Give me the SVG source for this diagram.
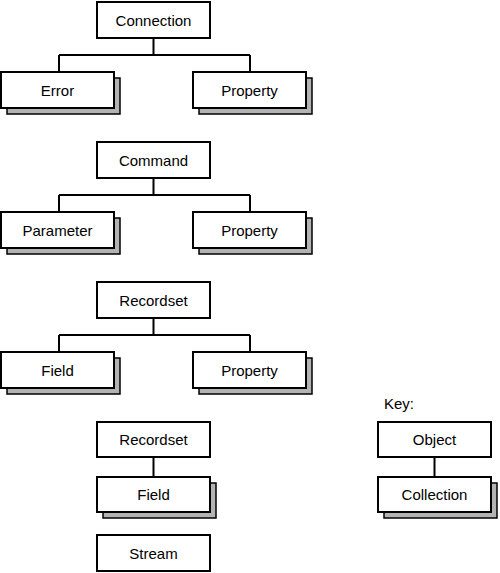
<svg xmlns="http://www.w3.org/2000/svg" width="500" height="573" viewBox="0 0 500 573">
<style>
.box{fill:#fff;stroke:#000;stroke-width:2}
.sh{fill:#b3b3b3;stroke:#000;stroke-width:1.5}
.t{font-family:"Liberation Sans",Arial,sans-serif;font-size:15px;fill:#000;text-anchor:middle}
.c{fill:none;stroke:#000;stroke-width:2}
</style>
<rect width="500" height="573" fill="#fff"/>
<g id="connectors">
<path class="c" d="M153.5 38V55M59 55H250M59 55V72M250 55V72"/>
<path class="c" d="M153.5 178V195M59 195H250M59 195V212M250 195V212"/>
<path class="c" d="M153.5 318V335M59 335H250M59 335V352M250 335V352"/>
<path class="c" d="M153.5 457V477"/>
<path class="c" d="M434.5 457V477"/>
</g>
<g id="connection"><rect class="box" x="97" y="2" width="113" height="36"/><text class="t" x="153.5" y="25.5">Connection</text></g>
<g id="error"><rect class="sh" x="7" y="78" width="113" height="36"/><rect class="box" x="1" y="72" width="113" height="36"/><text class="t" x="57.5" y="95.5">Error</text></g>
<g id="property1"><rect class="sh" x="199" y="78" width="113" height="36"/><rect class="box" x="193" y="72" width="113" height="36"/><text class="t" x="249.5" y="95.5">Property</text></g>
<g id="command"><rect class="box" x="97" y="142" width="113" height="36"/><text class="t" x="153.5" y="165.5">Command</text></g>
<g id="parameter"><rect class="sh" x="7" y="218" width="113" height="36"/><rect class="box" x="1" y="212" width="113" height="36"/><text class="t" x="57.5" y="235.5">Parameter</text></g>
<g id="property2"><rect class="sh" x="199" y="218" width="113" height="36"/><rect class="box" x="193" y="212" width="113" height="36"/><text class="t" x="249.5" y="235.5">Property</text></g>
<g id="recordset1"><rect class="box" x="97" y="282" width="113" height="36"/><text class="t" x="153.5" y="305.5">Recordset</text></g>
<g id="field1"><rect class="sh" x="7" y="358" width="113" height="36"/><rect class="box" x="1" y="352" width="113" height="36"/><text class="t" x="57.5" y="375.5">Field</text></g>
<g id="property3"><rect class="sh" x="199" y="358" width="113" height="36"/><rect class="box" x="193" y="352" width="113" height="36"/><text class="t" x="249.5" y="375.5">Property</text></g>
<g id="recordset2"><rect class="box" x="97" y="422" width="113" height="35"/><text class="t" x="153.5" y="445">Recordset</text></g>
<g id="field2"><rect class="sh" x="103" y="483" width="113" height="35"/><rect class="box" x="97" y="477" width="113" height="35"/><text class="t" x="153.5" y="500">Field</text></g>
<g id="stream"><rect class="box" x="97" y="535" width="113" height="36"/><text class="t" x="153.5" y="558.5">Stream</text></g>
<g id="key"><text class="t" x="384" y="409" style="text-anchor:start">Key:</text></g>
<g id="object"><rect class="box" x="378" y="422" width="113" height="35"/><text class="t" x="434.5" y="445">Object</text></g>
<g id="collection"><rect class="sh" x="384" y="483" width="113" height="35"/><rect class="box" x="378" y="477" width="113" height="35"/><text class="t" x="434.5" y="500">Collection</text></g>
</svg>
